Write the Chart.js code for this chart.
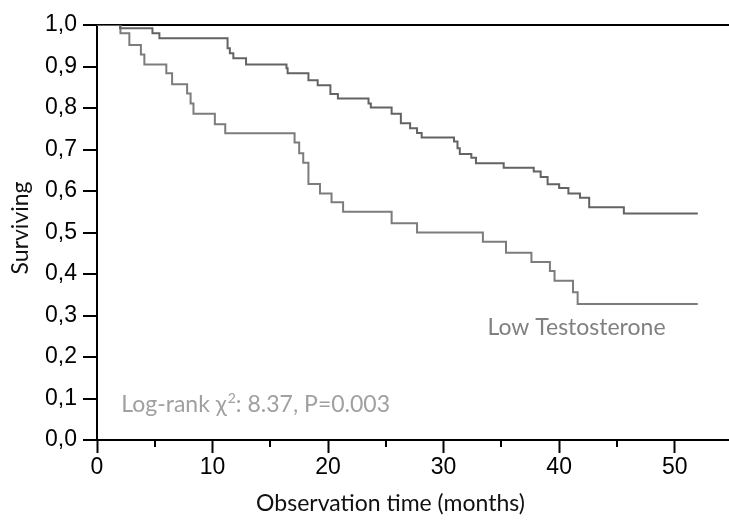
<!DOCTYPE html>
<html lang="en">
<head>
<meta charset="UTF-8">
<title>Survival by testosterone level</title>
<style>
  body{margin:0;background:#fff}
  #chart-container{width:729px;height:523px}
</style>
</head>
<body>
<div id="chart-container"><canvas id="km-chart"></canvas></div>
<script src="https://cdn.jsdelivr.net/npm/chart.js"></script>
<script>
// Kaplan-Meier steps: time (months) of each drop and survival right after it
const normalTimes=[0,2.0,4.8,5.4,11.3,11.5,11.8,12.9,16.4,16.5,18.3,19.1,20.2,20.85,23.5,23.7,25.5,26.3,27.1,27.7,28.1,30.9,31.2,31.4,32.4,32.8,35.2,37.8,38.4,39.0,40.0,40.8,41.8,42.6,45.6,52.0]
const normalSurv=[1,0.992,0.98,0.968,0.944,0.932,0.920,0.905,0.896,0.884,0.867,0.855,0.834,0.823,0.811,0.801,0.786,0.763,0.751,0.740,0.729,0.719,0.703,0.689,0.680,0.667,0.656,0.647,0.634,0.616,0.607,0.594,0.584,0.561,0.546,0.546]

const lowTimes=[0,2.03,2.8,3.8,4.1,6.0,6.5,7.8,8.1,8.35,10.2,11.1,17.1,17.5,17.85,18.3,19.3,20.3,21.3,25.5,27.7,33.4,35.4,37.6,39.2,39.6,41.2,41.6,52.0]
const lowSurv=[1,0.98,0.952,0.929,0.905,0.884,0.857,0.835,0.811,0.786,0.761,0.739,0.717,0.691,0.668,0.617,0.594,0.573,0.550,0.522,0.500,0.478,0.451,0.429,0.407,0.384,0.356,0.328,0.328]

const xMajorTicks=[0,10,20,30,40,50]
const xMinorTicks=[5,15,25,35,45]

const lowLabel='Low Testosterone'
const statLabel=['Log-rank \u03c7','2',': 8.37, P=0.003']
const xTitle='Observation time (months)'
const yTitle='Surviving'

const textFont='23px Lato'
const toPoints=(t,s)=>t.map((v,i)=>({x:v,y:s[i]}))

const extras={
  id:'extras',
  afterDraw(chart){
    const c=chart.ctx
    const xs=chart.scales.x, ys=chart.scales.y
    const base=ys.getPixelForValue(0)
    c.save()
    // minor ticks on the time axis
    c.strokeStyle='#000'
    c.lineWidth=2
    xMinorTicks.forEach(v=>{
      const px=Math.round(xs.getPixelForValue(v))
      c.beginPath();c.moveTo(px,base);c.lineTo(px,base+7);c.stroke()
    })
    // curve label
    c.font=textFont
    c.fillStyle='#808080'
    c.textAlign='center'
    c.textBaseline='middle'
    c.fillText(lowLabel,xs.getPixelForValue(41.5),ys.getPixelForValue(0.272))
    // log-rank result with superscript
    c.fillStyle='#a0a0a0'
    c.textAlign='left'
    c.textBaseline='alphabetic'
    let px=xs.getPixelForValue(2.1)
    const py=ys.getPixelForValue(0.067)
    c.fillText(statLabel[0],px,py)
    px+=c.measureText(statLabel[0]).width+1
    c.font='14px Lato'
    c.fillText(statLabel[1],px,py-9)
    px+=c.measureText(statLabel[1]).width
    c.font=textFont
    c.fillText(statLabel[2],px,py)
    // axis titles
    c.fillStyle='#111'
    c.textAlign='center'
    c.fillText(xTitle,xs.getPixelForValue(25.4),base+71)
    c.translate(28,ys.getPixelForValue(0.511))
    c.rotate(-Math.PI/2)
    c.fillText(yTitle,0,0)
    c.restore()
  }
}

new Chart(document.getElementById('km-chart'),{
  type:'scatter',
  data:{datasets:[
    {label:'Normal',data:toPoints(normalTimes,normalSurv),showLine:true,stepped:true,borderColor:'#636363',borderWidth:2,pointRadius:0,fill:false},
    {label:'Low',data:toPoints(lowTimes,lowSurv),showLine:true,stepped:true,borderColor:'#7c7c7c',borderWidth:2,pointRadius:0,fill:false}
  ]},
  options:{
    responsive:true,
    maintainAspectRatio:false,
    animation:false,
    layout:{padding:{top:25,right:0,left:0,bottom:0}},
    plugins:{legend:{display:false},tooltip:{enabled:false}},
    scales:{
      x:{
        type:'linear',min:0,max:54.7,
        afterBuildTicks:s=>{s.ticks=xMajorTicks.map(v=>({value:v}))},
        afterFit:s=>{s.height=83},
        ticks:{font:{family:'Liberation Sans',size:23},color:'#000',padding:1,maxRotation:0},
        grid:{drawOnChartArea:false,tickLength:13,tickColor:'#000',tickWidth:2},
        border:{color:'#000',width:2}
      },
      y:{
        min:0,max:1,
        afterFit:s=>{s.width=97},
        ticks:{stepSize:0.1,font:{family:'Liberation Sans',size:23},color:'#000',padding:6,
          callback:v=>v.toFixed(1).replace('.',',')},
        grid:{color:c=>c.tick&&c.tick.value===1?'#000':'transparent',lineWidth:2,tickLength:14,tickColor:'#000',tickWidth:2},
        border:{color:'#000',width:2}
      }
    }
  },
  plugins:[extras]
})
</script>
</body>
</html>
